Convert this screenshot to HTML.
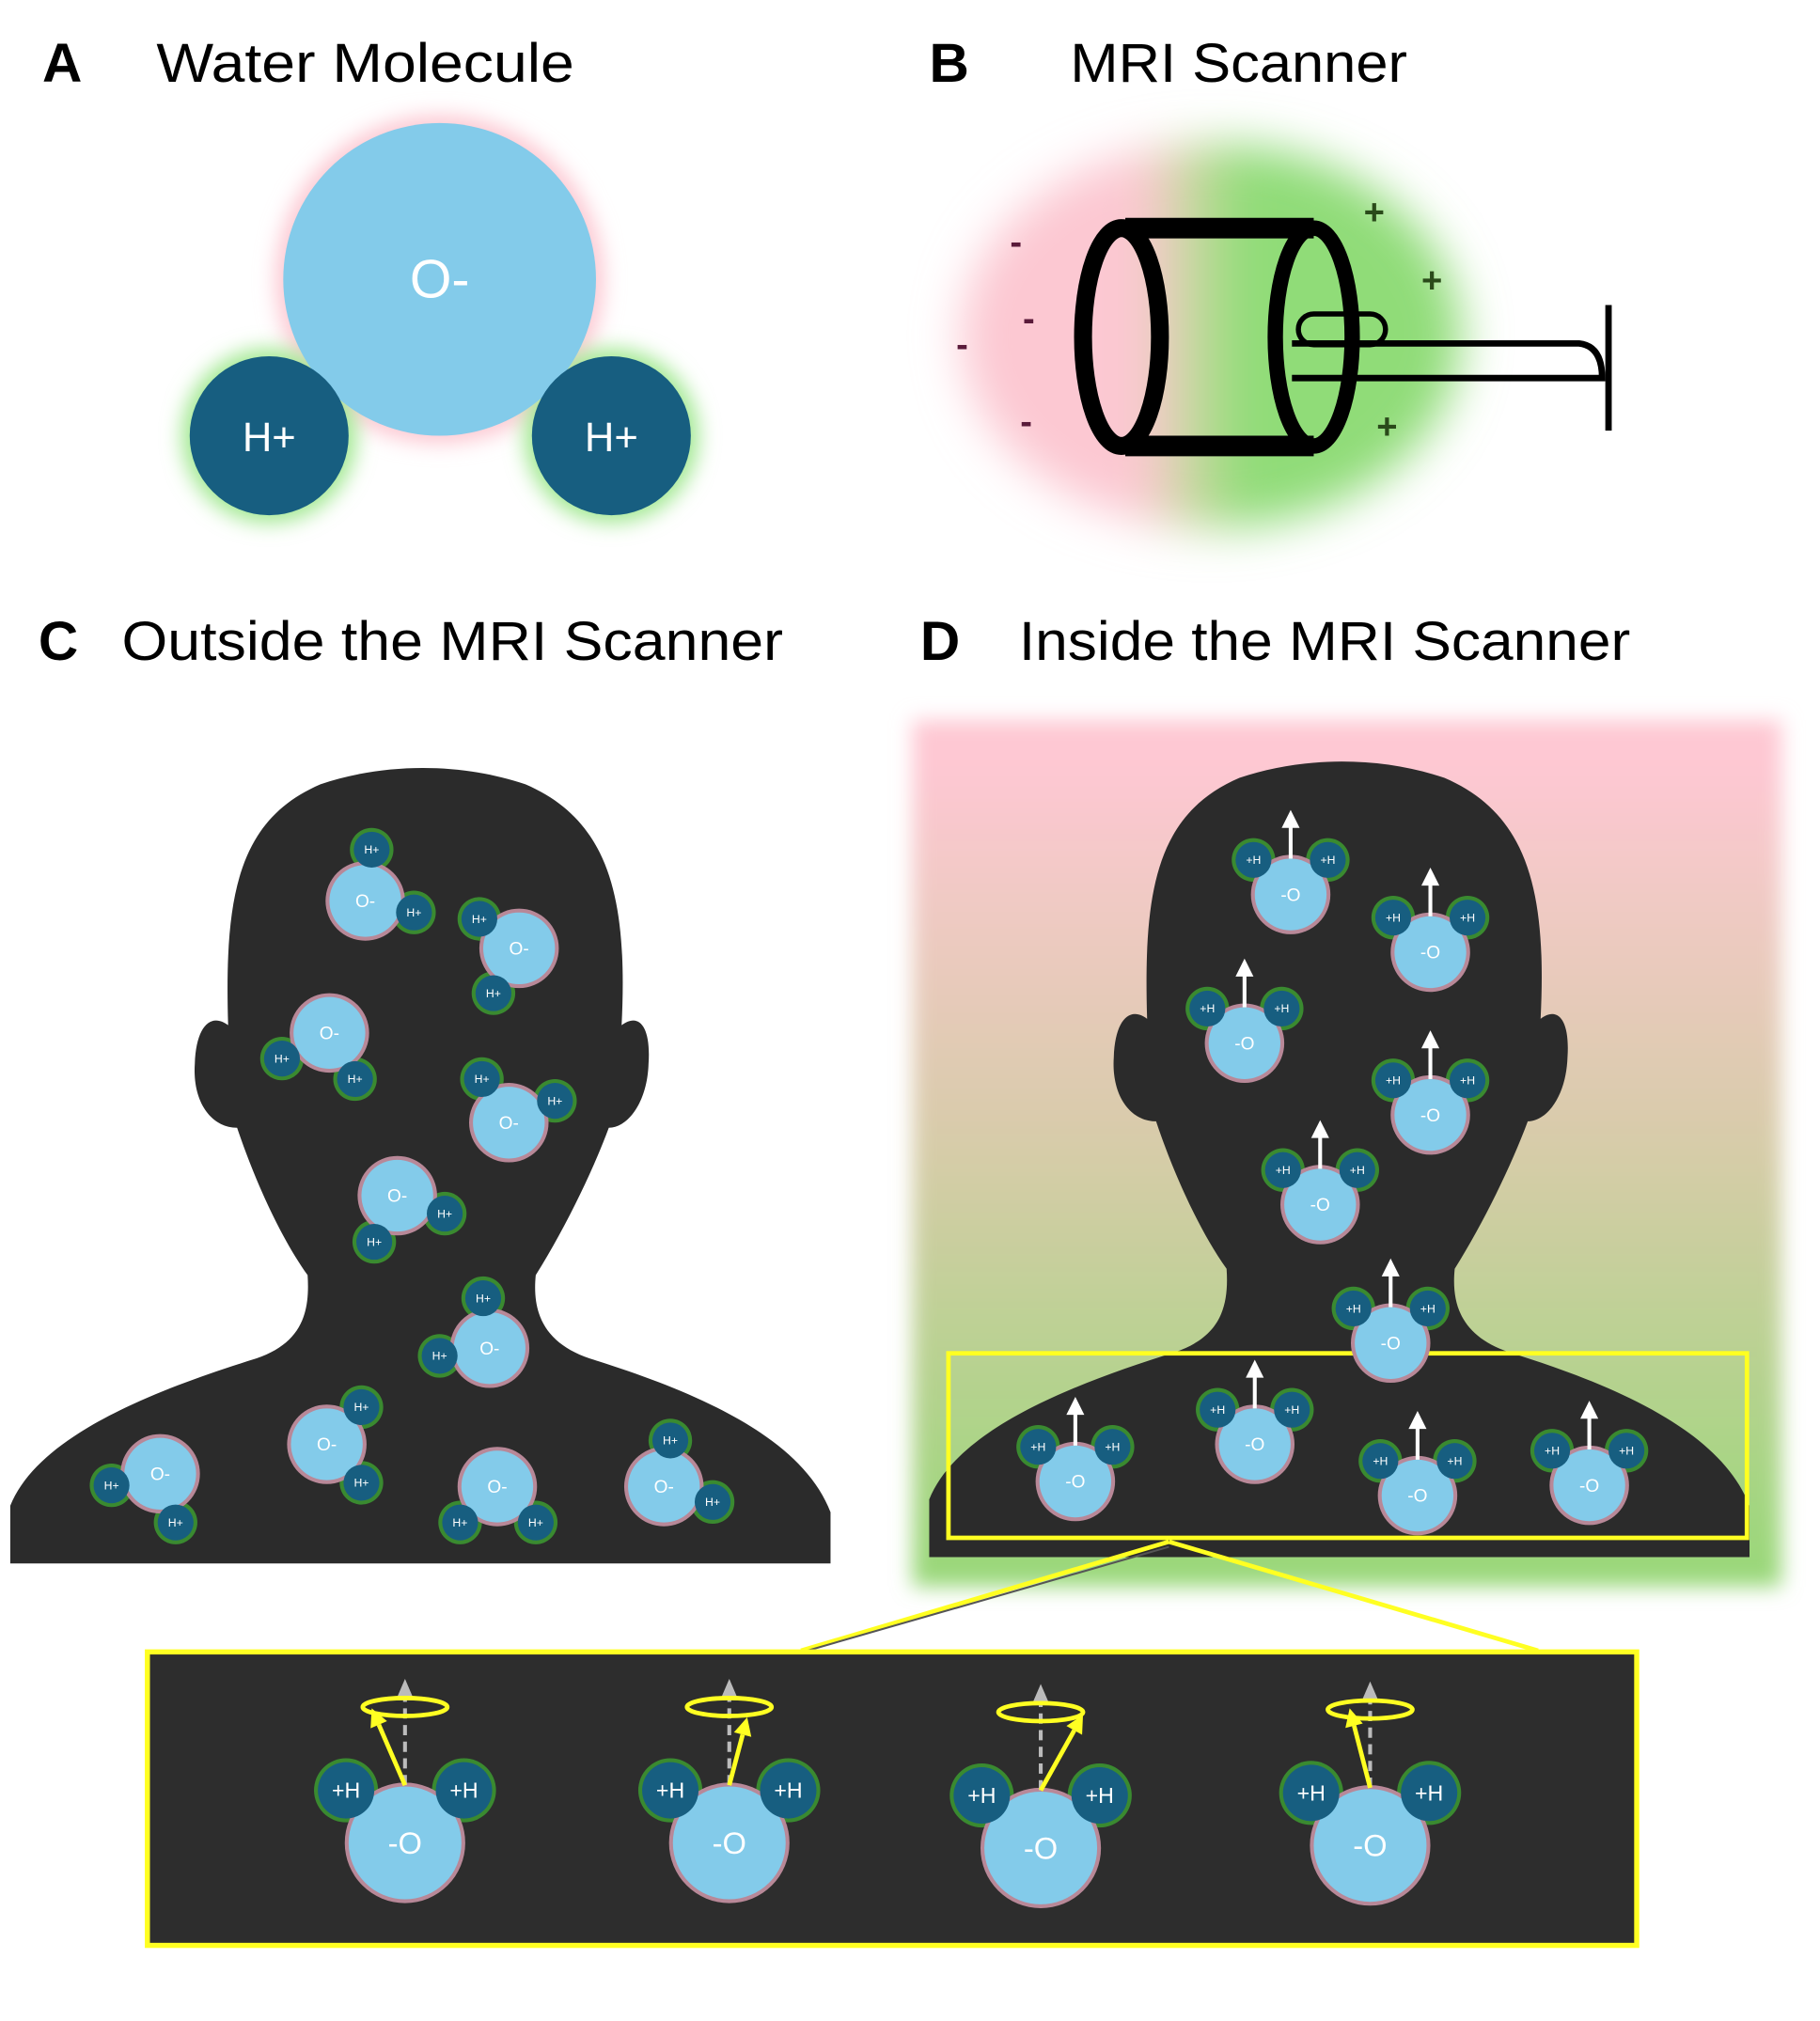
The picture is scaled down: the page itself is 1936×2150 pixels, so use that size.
<!DOCTYPE html>
<html><head><meta charset="utf-8"><style>
html,body{margin:0;padding:0;background:#fff;}
svg{display:block;}
text{font-family:"Liberation Sans",sans-serif;}
</style></head><body>
<svg width="1936" height="2150" viewBox="0 0 1420 1577" preserveAspectRatio="none" xmlns="http://www.w3.org/2000/svg">
<defs>
<filter id="blur8" x="-30%" y="-30%" width="160%" height="160%"><feGaussianBlur stdDeviation="8"/></filter>
<filter id="blur20" x="-30%" y="-30%" width="160%" height="160%"><feGaussianBlur stdDeviation="18"/></filter>
<linearGradient id="bg" x1="0" x2="1" y1="0" y2="0">
<stop offset="0.36" stop-color="#fcc8d2"/><stop offset="0.46" stop-color="#c8d8a0"/><stop offset="0.56" stop-color="#90dc78"/></linearGradient>
<linearGradient id="dg" x1="0" x2="0" y1="0" y2="1">
<stop offset="0.05" stop-color="#fec8d3"/><stop offset="0.5" stop-color="#d6cca8"/><stop offset="1" stop-color="#98d878"/></linearGradient>
<path id="head" d="M 8 1220 L 8 1175 C 30 1120 120 1085 200 1060 C 235 1048 242 1025 240 995 C 215 960 195 910 185 880 C 165 880 150 860 152 830 C 153 800 165 790 178 800 C 175 700 185 640 250 612 C 300 595 360 595 410 612 C 475 640 490 700 485 800 C 498 790 508 800 506 830 C 505 860 490 880 475 880 C 462 915 440 960 418 995 C 415 1025 425 1048 460 1060 C 540 1085 625 1120 648 1180 L 648 1220 Z"/>
</defs>

<g font-size="43">
<text x="33" y="64" font-weight="bold">A</text><text x="122" y="64" textLength="326" lengthAdjust="spacingAndGlyphs">Water Molecule</text>
<text x="725" y="64" font-weight="bold">B</text><text x="835" y="64" textLength="263" lengthAdjust="spacingAndGlyphs">MRI Scanner</text>
<text x="30" y="515" font-weight="bold">C</text><text x="95" y="515" textLength="516" lengthAdjust="spacingAndGlyphs">Outside the MRI Scanner</text>
<text x="718" y="515" font-weight="bold">D</text><text x="795" y="515" textLength="477" lengthAdjust="spacingAndGlyphs">Inside the MRI Scanner</text>
</g>

<!-- A -->
<circle cx="343" cy="218" r="128" fill="#fcc8d2" filter="url(#blur8)"/>
<circle cx="210" cy="340" r="68" fill="#a0e890" filter="url(#blur8)"/>
<circle cx="477" cy="340" r="68" fill="#a0e890" filter="url(#blur8)"/>
<circle cx="343" cy="218" r="122" fill="#83cbea"/>
<circle cx="210" cy="340" r="62" fill="#175e80"/>
<circle cx="477" cy="340" r="62" fill="#175e80"/>
<text x="343" y="232" font-size="42" fill="#fff" text-anchor="middle">O-</text>
<text x="210" y="352" font-size="32" fill="#fff" text-anchor="middle">H+</text>
<text x="477" y="352" font-size="32" fill="#fff" text-anchor="middle">H+</text>

<!-- B -->
<ellipse cx="945" cy="262" rx="195" ry="150" fill="url(#bg)" filter="url(#blur20)"/>
<g fill="#5a1a3a" font-size="28" font-weight="bold"><text x="788" y="198">-</text><text x="798" y="258">-</text><text x="746" y="278">-</text><text x="796" y="338">-</text></g>
<g fill="#2a4a1a" font-size="28" font-weight="bold"><text x="1064" y="175">+</text><text x="1109" y="228">+</text><text x="1074" y="342">+</text></g>
<path d="M 878 178 L 1025 178 M 878 348 L 1025 348" stroke="#000" stroke-width="16"/>
<ellipse cx="875" cy="263" rx="30" ry="85" fill="none" stroke="#000" stroke-width="14"/>
<path d="M 893 192 Q 912 263 893 333" fill="none" stroke="#000" stroke-width="4" stroke-dasharray="12 8"/>
<ellipse cx="1025" cy="263" rx="30" ry="85" fill="none" stroke="#000" stroke-width="12"/>
<rect x="1013" y="245" width="68" height="24" rx="12" fill="none" stroke="#000" stroke-width="4"/>
<path d="M 1008 268 L 1232 268 Q 1250 270 1250 295 L 1008 295" fill="none" stroke="#000" stroke-width="5"/>
<line x1="1255" y1="238" x2="1255" y2="336" stroke="#000" stroke-width="5"/>

<use href="#head" fill="#2b2b2b"/>

<!-- D -->
<rect x="712" y="562" width="678" height="676" fill="url(#dg)" filter="url(#blur8)"/>
<use href="#head" fill="#2b2b2b" transform="translate(717,-5)"/>
<line x1="912" y1="1203" x2="625" y2="1288" stroke="#ffff22" stroke-width="3.5"/>
<line x1="912" y1="1203" x2="1200" y2="1288" stroke="#ffff22" stroke-width="3.5"/>
<line x1="912" y1="1207" x2="630" y2="1288" stroke="#555" stroke-width="1.5"/>
<rect x="740" y="1056" width="623" height="144" fill="none" stroke="#ffff22" stroke-width="3.5"/>

<rect x="115" y="1289" width="1162" height="229" fill="#2d2d2d" stroke="#ffff22" stroke-width="4"/>

<g id="dyn"></g>
</svg>
<script>
var NS="http://www.w3.org/2000/svg";
var dyn=document.getElementById("dyn");
function el(t,a,txt){var e=document.createElementNS(NS,t);for(var k in a)e.setAttribute(k,a[k]);if(txt)e.textContent=txt;dyn.appendChild(e);return e;}
function mol(ox,oy,ro,hs,rh,olab,hlab,fs,hfs){
 hs.forEach(function(h){el("circle",{cx:h[0],cy:h[1],r:rh+3,fill:"#3a8a30"});});
 el("circle",{cx:ox,cy:oy,r:ro+3,fill:"#b88898"});
 el("circle",{cx:ox,cy:oy,r:ro,fill:"#83cbea"});
 hs.forEach(function(h){el("circle",{cx:h[0],cy:h[1],r:rh,fill:"#175e80"});
  el("text",{x:h[0],y:h[1]+hfs*0.35,"font-size":hfs,fill:"#fff","text-anchor":"middle","font-family":"Liberation Sans"},hlab);});
 el("text",{x:ox,y:oy+fs*0.35,"font-size":fs,fill:"#fff","text-anchor":"middle","font-family":"Liberation Sans"},olab);
}
var C=[[285,703,290,663,323,712],[405,740,374,717,385,775],[257,806,220,826,277,842],[397,876,376,842,433,859],[310,933,347,947,292,969],[382,1052,377,1013,343,1058],[255,1127,282,1098,282,1157],[125,1150,87,1159,137,1188],[388,1160,359,1188,418,1188],[518,1160,523,1124,556,1172]];
C.forEach(function(m){mol(m[0],m[1],28,[[m[2],m[3]],[m[4],m[5]]],14,"O-","H+",14,9);});
var D=[[1007,698],[1116,743],[971,814],[1116,870],[1030,940],[1085,1048],[979,1127],[839,1156],[1106,1167],[1240,1159]];
D.forEach(function(m){var x=m[0],y=m[1];
 mol(x,y,28,[[x-29,y-27],[x+29,y-27]],14,"-O","+H",14,9);
 el("line",{x1:x,y1:y-28,x2:x,y2:y-55,stroke:"#fff","stroke-width":3});
 el("path",{d:"M "+(x-7)+" "+(y-52)+" L "+x+" "+(y-66)+" L "+(x+7)+" "+(y-52)+" Z",fill:"#fff"});
});
var B=[[316,1438,290,1333],[569,1438,583,1340],[812,1442,845,1338],[1069,1440,1053,1333]];
B.forEach(function(b){var x=b[0],y=b[1];
 mol(x,y,44,[[x-46,y-41],[x+46,y-41]],22,"-O","+H",24,17);
 el("line",{x1:x,y1:y-45,x2:x,y2:y-118,stroke:"#bbb","stroke-width":3,"stroke-dasharray":"8 5"});
 el("path",{d:"M "+(x-6)+" "+(y-114)+" L "+x+" "+(y-128)+" L "+(x+6)+" "+(y-114)+" Z",fill:"#bbb"});
 el("ellipse",{cx:x,cy:y-106,rx:33,ry:7,fill:"none",stroke:"#ffff22","stroke-width":3.5});
 var tx=b[2],ty=b[3],sx=x,sy=y-45;
 var dx=tx-sx,dy=ty-sy,L=Math.sqrt(dx*dx+dy*dy),ux=dx/L,uy=dy/L;
 var bx=tx-ux*14,by=ty-uy*14;
 el("line",{x1:sx,y1:sy,x2:bx,y2:by,stroke:"#ffff22","stroke-width":3.5});
 el("path",{d:"M "+tx+" "+ty+" L "+(bx-uy*7)+" "+(by+ux*7)+" L "+(bx+uy*7)+" "+(by-ux*7)+" Z",fill:"#ffff22"});
});
</script>
</body></html>
